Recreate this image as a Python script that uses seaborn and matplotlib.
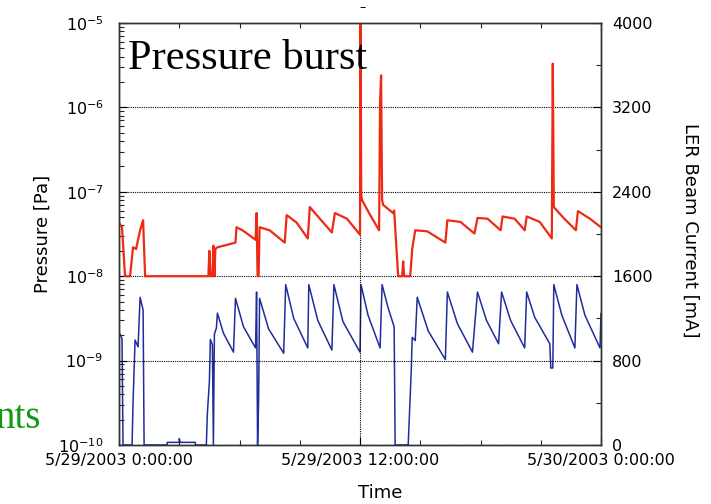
import numpy as np
import pandas as pd
import matplotlib
matplotlib.use("Agg")
import matplotlib.pyplot as plt
import matplotlib.ticker as mticker
import seaborn as sns

# ---- data (hours after 5/29/2003 0:00) ----
pressure_hours = [0.0, 0.15, 0.3, 0.55, 0.7, 0.85, 1.05, 1.2, 1.3, 4.45, 4.5, 4.55, 4.65, 4.7, 4.75, 4.8,
                  4.9, 5.8, 5.85, 6.15, 6.8, 6.85, 6.9, 6.95, 7.0, 7.5, 8.25, 8.35, 8.85, 9.4, 9.5,
                  10.0, 10.6, 10.75, 11.35, 12.0, 12.03, 12.06, 12.1, 12.45, 12.95, 13.0, 13.05,
                  13.1, 13.15, 13.65, 13.7, 13.9, 14.1, 14.15, 14.2, 14.5, 14.6, 14.75, 15.35, 16.25,
                  16.35, 17.0, 17.7, 17.85, 18.35, 19.0, 19.1, 19.7, 20.2, 20.3, 20.95, 21.55, 21.6,
                  21.65, 22.1, 22.75, 22.85, 23.45, 24.0]
pressure_pa = [4.3e-8, 3.8e-8, 1e-8, 1e-8, 2.2e-8, 2.1e-8, 3.5e-8, 4.6e-8, 1e-8, 1e-8, 2.0e-8, 1e-8, 1e-8, 2.3e-8, 1e-8, 2.1e-8,
               2.2e-8, 2.5e-8, 3.8e-8, 3.5e-8, 2.7e-8, 5.6e-8, 1e-8, 1e-8, 3.8e-8, 3.5e-8, 2.5e-8, 5.3e-8, 4.3e-8, 2.8e-8, 6.6e-8,
               4.8e-8, 3.3e-8, 5.6e-8, 4.8e-8, 3.1e-8, 2e-5, 9.1e-8, 8.0e-8, 5.6e-8, 3.5e-8, 1.2e-6, 2.4e-6,
               8.0e-8, 7.0e-8, 5.6e-8, 6.0e-8, 1e-8, 1e-8, 1.5e-8, 1e-8, 1e-8, 2.1e-8, 3.5e-8, 3.4e-8, 2.5e-8,
               4.6e-8, 4.4e-8, 3.2e-8, 4.9e-8, 4.8e-8, 3.5e-8, 5.1e-8, 4.8e-8, 3.5e-8, 5.1e-8, 4.4e-8, 2.8e-8, 3.3e-6,
               6.6e-8, 5.0e-8, 3.5e-8, 5.9e-8, 4.8e-8, 3.8e-8]

current_hours = [0.0, 0.15, 0.2, 0.65, 0.7, 0.8, 0.95, 1.05, 1.2, 1.25, 2.4, 2.4, 3.0, 3.0, 3.05, 3.8, 3.8,
                 4.35, 4.4, 4.5, 4.55, 4.65, 4.7, 4.75, 4.85, 4.9, 5.2, 5.7, 5.8, 6.2, 6.8, 6.85, 6.9,
                 6.95, 7.0, 7.45, 8.2, 8.3, 8.7, 9.4, 9.45, 9.9, 10.6, 10.7, 11.15, 12.0, 12.05, 12.4,
                 13.0, 13.1, 13.4, 13.7, 13.75, 14.4, 14.55, 14.6, 14.75, 14.85, 15.4, 16.25, 16.35,
                 16.85, 17.6, 17.85, 18.3, 18.9, 19.05, 19.5, 20.2, 20.3, 20.7, 21.45, 21.5, 21.6,
                 21.65, 22.05, 22.7, 22.8, 23.2, 23.95, 24.0]
current_ma = [1070, 1010, 0, 0, 400, 995, 930, 1400, 1280, 0, 0, 25, 25, 60, 25, 25, 0,
              0, 300, 600, 1000, 950, 0, 1050, 1110, 1250, 1060, 880, 1390, 1120, 920, 1450, 0,
              400, 1390, 1100, 870, 1520, 1200, 920, 1520, 1180, 900, 1520, 1170, 880, 1520, 1230,
              920, 1520, 1300, 1120, 0, 0, 700, 1020, 990, 1400, 1080, 810, 1450,
              1150, 880, 1450, 1180, 960, 1450, 1180, 920, 1450, 1210, 960, 730, 730,
              1520, 1230, 920, 1520, 1230, 920, 1250]

x_tick_labels = ["5/29/2003 0:00:00", "5/29/2003 12:00:00", "5/30/2003 0:00:00"]

# ---- style ----
sns.set_style("ticks")
plt.rcParams["font.family"] = ["DejaVu Sans"]
plt.rcParams["mathtext.fontset"] = "dejavusans"
plt.rcParams["mathtext.default"] = "regular"
plt.rcParams["axes.labelcolor"] = "black"
plt.rcParams["text.color"] = "black"

fig = plt.figure(figsize=(7.11, 5.04), dpi=100)
ax = fig.add_axes([119 / 711, 1 - 445 / 504, (601 - 119) / 711, (445 - 23) / 504])
ax2 = ax.twinx()

df_p = pd.DataFrame({"hours": pressure_hours, "pressure": pressure_pa})
df_c = pd.DataFrame({"hours": current_hours, "current": current_ma})

sns.lineplot(data=df_c, x="hours", y="current", ax=ax2, sort=False, estimator=None,
             color="#1f2d9c", linewidth=1.1)
sns.lineplot(data=df_p, x="hours", y="pressure", ax=ax, sort=False, estimator=None,
             color="#ee2a14", linewidth=1.6)
ax.set_zorder(ax2.get_zorder() + 1)
ax.patch.set_visible(False)

ax.set_yscale("log")
ax.set_ylim(1e-10, 1e-5)
ax.set_xlim(0, 24)
ax2.set_ylim(0, 4000)

ax.yaxis.set_major_locator(mticker.LogLocator(base=10, numticks=10))
ax.yaxis.set_minor_locator(mticker.LogLocator(base=10, subs=np.arange(2, 10), numticks=20))
ax.yaxis.set_minor_formatter(mticker.NullFormatter())
ax.set_xticks([0, 12, 24])
ax.set_xticklabels(x_tick_labels)
ax.xaxis.set_minor_locator(mticker.MultipleLocator(3))
ax2.set_yticks([0, 800, 1600, 2400, 3200, 4000])
ax2.yaxis.set_minor_locator(mticker.MultipleLocator(400))

ax.grid(True, which="major", axis="both", linestyle=(0, (1, 1)), color="black", linewidth=0.8)

for a in (ax, ax2):
    a.tick_params(which="major", direction="in", length=6, width=0.8, labelsize=11.5, colors="black")
    a.tick_params(which="minor", direction="in", length=3.5, width=0.8)
    for s in a.spines.values():
        s.set_color("#333333")
        s.set_linewidth(1.0)
ax.tick_params(axis="x", which="both", top=True, pad=6)
ax.tick_params(axis="y", which="both", pad=11)
ax2.tick_params(axis="y", pad=8)

ax.set_xlabel("Time", fontsize=13, color="black")
ax.xaxis.set_label_coords(0.541, -0.092)
ax.set_ylabel("Pressure [Pa]", fontsize=13, color="black")
ax.yaxis.set_label_coords(-0.139, 0.5)
ax2.set_ylabel("LER Beam Current [mA]", fontsize=13, rotation=270, color="black")
ax2.yaxis.set_label_coords(1.203, 0.51)

fig.text(128 / 711, 1 - 69 / 504, "Pressure burst", fontsize=30.5,
         family=["Liberation Serif", "DejaVu Serif"], color="black")
fig.text(40 / 711, 1 - 428 / 504, "nts", fontsize=28, ha="right",
         family=["Liberation Serif", "DejaVu Serif"], color="#119911")
fig.text(363 / 711, 1 - 1 / 504, "\u2013", fontsize=9, ha="center", va="top", color="black")

fig.savefig("out.png", dpi=100)
